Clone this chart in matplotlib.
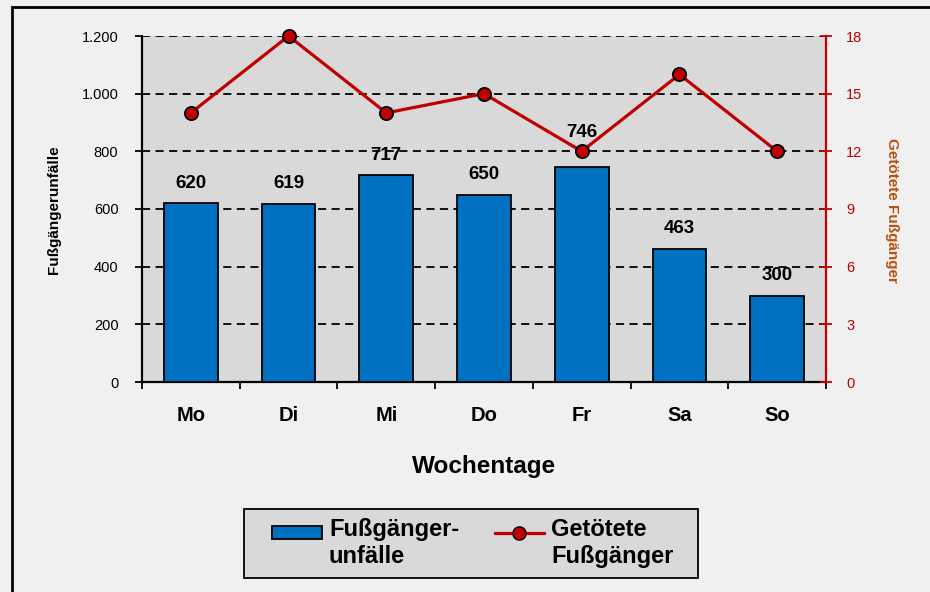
import matplotlib
matplotlib.use("Agg")
import matplotlib.pyplot as plt
from matplotlib.patches import Rectangle
from matplotlib.transforms import Affine2D
from matplotlib.legend_handler import HandlerPatch, HandlerLine2D
from matplotlib.ticker import FuncFormatter, MultipleLocator, FixedLocator
import numpy as np

plt.rcParams['font.family'] = ['Liberation Sans', 'DejaVu Sans']

tage = ["Mo", "Di", "Mi", "Do", "Fr", "Sa", "So"]
unfaelle = [620, 619, 717, 650, 746, 463, 300]
getoetete = [14, 18, 14, 15, 12, 16, 12]


# legend handles sit at the first text line, like in Excel
class PatchOben(HandlerPatch):
    def create_artists(self, legend, orig_handle, xdescent, ydescent, width,
                       height, fontsize, trans):
        return super().create_artists(legend, orig_handle, xdescent, ydescent,
                                      width, height, fontsize,
                                      Affine2D().translate(0, 8) + trans)


class LinieOben(HandlerLine2D):
    def create_artists(self, legend, orig_handle, xdescent, ydescent, width,
                       height, fontsize, trans):
        return super().create_artists(legend, orig_handle, xdescent, ydescent,
                                      width, height, fontsize,
                                      Affine2D().translate(0, 8) + trans)


fig = plt.figure(figsize=(9.3, 5.92), dpi=100, facecolor="#F0F0F0")
ax = fig.add_axes([142 / 930, 210 / 592, 684 / 930, 346 / 592])
ax.set_facecolor("#D9D9D9")

x = np.arange(len(tage))
bars = ax.bar(x, unfaelle, width=0.55, color="#0070C0", edgecolor="black",
              linewidth=1.3, zorder=3)
ax.set_xlim(-0.5, len(tage) - 0.5)
ax.set_ylim(0, 1200)
ax.yaxis.set_major_locator(MultipleLocator(200))
ax.yaxis.set_major_formatter(FuncFormatter(lambda v, p: f"{int(v):,}".replace(",", ".")))
ax.grid(axis="y", color="black", linestyle=(0, (4.5, 3)), linewidth=1.3, zorder=1)
ax.set_axisbelow(True)

ax.set_xticks(x)
ax.set_xticklabels(tage, fontsize=14.5, fontweight="bold")
ax.tick_params(axis="x", which="major", length=0, pad=17)
ax.xaxis.set_minor_locator(FixedLocator(np.arange(-0.5, len(tage), 1)))
ax.tick_params(axis="x", which="minor", length=5, width=1.3)
ax.tick_params(axis="y", labelsize=10.5, length=5, width=1.3, pad=12)

for s in ["top", "right"]:
    ax.spines[s].set_visible(False)
ax.spines["left"].set_linewidth(1.6)
ax.spines["bottom"].set_linewidth(1.6)

for i, b in enumerate(bars):
    off = 19 if tage[i] == "Fr" else 8
    ax.annotate(str(unfaelle[i]), (b.get_x() + b.get_width() / 2, b.get_height()),
                xytext=(0, off), textcoords="offset points", ha="center",
                va="bottom", fontsize=13.5, fontweight="bold", zorder=6)

ax2 = ax.twinx()
ax2.plot(x, getoetete, color="#C00000", linewidth=2.3, marker="o",
         markersize=9.5, markerfacecolor="#C00000", markeredgecolor="black",
         markeredgewidth=1.3, zorder=5, clip_on=False)
ax2.set_ylim(0, 18)
ax2.yaxis.set_major_locator(MultipleLocator(3))
ax2.tick_params(axis="y", colors="#C00000", labelsize=10.5, length=9, width=1.3,
                direction="inout", pad=10)
for s in ["top", "left", "bottom"]:
    ax2.spines[s].set_visible(False)
ax2.spines["right"].set_color("#C00000")
ax2.spines["right"].set_linewidth(1.6)

# axis titles
fig.text(54 / 930, 1 - 210 / 592, "Fußgängerunfälle", rotation=90, ha="center",
         va="center", fontsize=11, fontweight="bold")
fig.text(892 / 930, 1 - 210 / 592, "Getötete Fußgänger", rotation=270, ha="center",
         va="center", fontsize=11, fontweight="bold", color="#B8500F")
fig.text(484 / 930, 1 - 466 / 592, "Wochentage", ha="center", va="center",
         fontsize=17.5, fontweight="bold")

# legend
fig.patches.append(Rectangle((244 / 930, 1 - 578 / 592), 454 / 930, 69 / 592,
                             transform=fig.transFigure, facecolor="#D9D9D9",
                             edgecolor="black", linewidth=1.3, zorder=1))
h1 = Rectangle((0, 0), 1, 1, facecolor="#0070C0", edgecolor="black", linewidth=1.3)
h2, = ax2.plot([], [], color="#C00000", linewidth=2.3, marker="o", markersize=9.5,
               markerfacecolor="#C00000", markeredgecolor="black")
leg = fig.legend([h1, h2], ["Fußgänger-\nunfälle", "Getötete\nFußgänger"],
                 loc="center", bbox_to_anchor=(0.5085, 1 - 543 / 592), ncol=2,
                 prop={"size": 17, "weight": "bold"}, frameon=False,
                 handlelength=2.1, handleheight=0.5, columnspacing=1.5,
                 borderpad=0.2, labelspacing=0.2, handletextpad=0.3,
                 handler_map={h1: PatchOben(), h2: LinieOben()})

fig.patches.append(Rectangle((12 / 930, -0.01), 1.0, 1 - 7 / 592 + 0.01,
                             transform=fig.transFigure, fill=False,
                             edgecolor="black", linewidth=2, zorder=0))

fig.savefig("out.png", dpi=100, facecolor=fig.get_facecolor())
